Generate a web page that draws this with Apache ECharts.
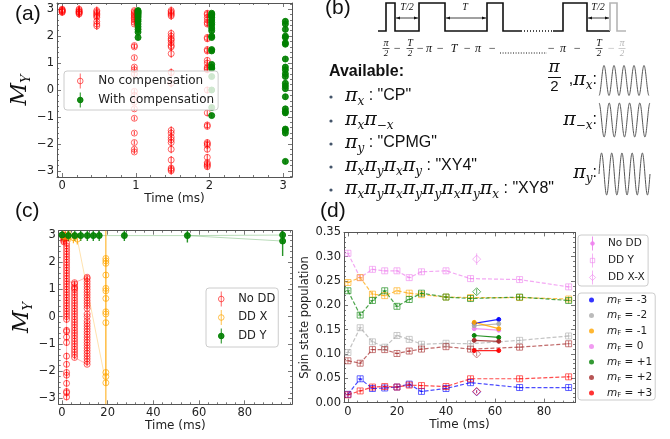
<!DOCTYPE html>
<html><head><meta charset="utf-8">
<script src="https://cdn.jsdelivr.net/npm/echarts@6/dist/echarts.min.js"></script>
<style>html,body{margin:0;padding:0;background:#fff}#c{width:670px;height:439px}</style>
</head><body><div id="c"></div>
<script>
// ================= DATA =================
// ---- panel (a): M_Y vs time (ms) ----
const aTimesNoComp = [0, 0.23, 0.47, 0.98, 1.48, 1.97];
const aNoComp0 = [3.0, 2.97, 2.93, 2.9, 2.88, 2.95];
const aNoComp1 = [3.0, 2.96, 2.92, 2.88, 2.85, 2.82, 2.9];
const aNoComp2 = [2.95, 2.9, 2.85, 2.8, 2.75, 2.7, 2.55, 2.45, 2.38];
const aNoComp3 = [2.95, 2.9, 2.85, 2.8, 2.75, 2.7, 2.65, 2.6, 2.52, 2.45, 1.65, 1.6, 1.2, 0.85, 0.75, 0.6, -0.05, -0.2, -0.45, -0.7, -1.05, -1.6, -1.95, -2.2, -2.3];
const aNoComp4 = [2.95, 2.9, 2.85, 2.8, 2.75, 2.1, 2.0, 1.9, 1.85, 1.75, 1.65, 1.6, 1.35, 0.65, 0.25, -1.5, -1.6, -1.75, -1.85, -1.95, -2.2, -2.6, -2.9, -2.95, -3.0];
const aNoComp5 = [2.85, 2.8, 2.7, 2.6, 2.5, 2.45, 1.95, 1.9, 1.5, 1.45, 1.1, 1.0, 0.85, 0.8, 0.75, 0.0, -0.85, -1.3, -1.35, -1.95, -2.0, -2.05, -2.2, -2.5, -2.7, -2.75, -2.8, -2.85];
const aNoCompErr = [0.12, 0.15, 0.15, 0.08, 0.15, 0.12];
const aTimesComp = [1.03, 2.03, 3.03];
const aComp0 = [2.95, 2.92, 2.88, 2.85, 2.8, 2.75, 2.7, 2.62, 2.55, 2.45, 2.35, 2.25, 2.15, 1.95];
const aComp1 = [2.85, 2.8, 2.75, 2.7, 2.6, 2.5, 2.42, 2.3, 2.2, 2.0, 1.95, 1.5, 1.45, 0.95, 0.85, 0.8, 0.5, 0.0, -0.65, -0.95];
const aComp2 = [2.55, 2.45, 2.25, 2.0, 1.95, 1.75, 1.7, 1.15, 0.85, 0.75, 0.6, 0.5, 0.25, 0.15, 0.05, -0.25, -0.7, -0.8, -0.85, -1.45, -1.5, -1.6, -2.65];
const aCompErr = [0.08, 0.08, 0.1];

// ---- panel (c): M_Y vs time (ms) ----
const cNoDDTimes = [0.8, 2.0, 5.5, 11.0];
const cNoDD0 = [3.0, 2.95, 2.9, 2.85, 2.8, 2.75];
const cNoDD1 = [2.7, 2.6, 2.5, 2.4, 2.3, 2.2, 2.1, 2.0, 1.9, 1.8, 1.7, 1.6, 1.5, 1.4, 1.3, 1.2, 1.1, 1.0, 0.9, 0.8, 0.7, 0.6, 0.5, 0.4, 0.3, 0.2, 0.1, 0.0, -0.1, -0.5, -0.55, -0.75, -0.95, -1.45, -1.75, -2.05, -2.15, -2.45, -2.75, -2.8, -2.95];
const cNoDD2 = [1.25, 1.2, 1.1, 1.05, 1.0, 0.9, 0.8, 0.7, 0.6, 0.5, 0.4, 0.3, 0.2, 0.1, 0.0, -0.1, -0.2, -0.3, -0.4, -0.5, -0.6, -0.7, -0.8, -0.9, -1.0, -1.1, -1.2, -1.3, -1.4, -1.5];
const cNoDD3 = [1.45, 1.4, 1.3, 1.2, 1.1, 1.0, 0.9, 0.8, 0.7, 0.6, 0.5, 0.4, 0.3, 0.1, 0.0, -0.15, -0.25, -0.35, -0.45, -0.55, -0.65, -0.75, -0.85, -0.95, -1.05, -1.15, -1.25, -1.35, -1.45, -1.55, -1.65, -1.75];
const cNoDDErr = [0.1, 0.12, 0.07, 0.07];
const cDDXTopTimes = [0.6, 1.5, 2.5, 3.5, 5.0, 6.7];
const cDDXTopVals = [2.97, 2.95, 2.97, 2.95, 2.9, 2.85];
const cDDXTopErr = [0.2, 0.2, 0.2, 0.2, 0.2, 0.2];
const cDDXLateTime = 19.2;
const cDDXLateVals = [2.14, 2.05, 1.96, 1.53, 1.04, 0.95, 0.67, 0.18, 0.1, -0.22, -2.05, -2.2, -2.43];
const cDDXLateErr = [0.1, 0.1, 0.1, 0.1, 0.1, 0.1, 0.1, 0.1, 3.4, 0.1, 0.1, 0.1, 0.1];
const cDDYTimes = [0, 2.8, 5.6, 8.2, 11.1, 13.7, 16.3, 27.3, 54.9, 96.6, 96.6];
const cDDYVals = [3.0, 2.98, 2.98, 2.98, 2.98, 2.98, 2.98, 2.98, 2.98, 3.0, 2.78];
const cDDYErr = [0.2, 0.2, 0.2, 0.2, 0.2, 0.2, 0.2, 0.2, 0.25, 0.15, 0.55];

// ---- panel (d): spin state population vs time (ms) ----
const dTimes = [0, 5, 10, 15, 20, 25, 30, 40, 50, 70, 90];
const mFNames = ['mF = -3', 'mF = -2', 'mF = -1', 'mF = 0', 'mF = +1', 'mF = +2', 'mF = +3'];
const dDDY_m3 = [0.017, 0.049, 0.029, 0.030, 0.032, 0.038, 0.023, 0.029, 0.041, 0.031, 0.031];
const dDDY_m2 = [0.103, 0.154, 0.125, 0.114, 0.138, 0.130, 0.120, 0.122, 0.121, 0.128, 0.137];
const dDDY_m1 = [0.247, 0.257, 0.223, 0.220, 0.230, 0.225, 0.222, 0.217, 0.216, 0.216, 0.213];
const dDDY_0  = [0.307, 0.257, 0.274, 0.271, 0.271, 0.257, 0.269, 0.271, 0.255, 0.253, 0.238];
const dDDY_p1 = [0.230, 0.180, 0.210, 0.230, 0.198, 0.212, 0.225, 0.217, 0.214, 0.217, 0.210];
const dDDY_p2 = [0.086, 0.081, 0.109, 0.109, 0.101, 0.106, 0.110, 0.115, 0.110, 0.114, 0.121];
const dDDY_p3 = [0.016, 0.024, 0.032, 0.033, 0.032, 0.036, 0.035, 0.033, 0.049, 0.049, 0.053];
const dDDYErr = 0.006;
const dNoDDTimes = [51.5, 61.5];
const dNoDD_m3 = [0.163, 0.171];
const dNoDD_m2 = [0.158, 0.162];
const dNoDD_m1 = [0.165, 0.152];
const dNoDD_0  = [0.152, 0.149];
const dNoDD_p1 = [0.138, 0.134];
const dNoDD_p2 = [0.128, 0.126];
const dNoDD_p3 = [0.107, 0.107];
const dXXTime = 52.5;
const dXXVals = [0.022, null, null, 0.295, 0.228, 0.100, 0.023];
const dXXErr  = [0.003, null, null, 0.012, 0.006, 0.005, 0.003];

// ---- tick labels ----
const aXTicks = [0, 1, 2, 3];
const myTicks = [-3, -2, -1, 0, 1, 2, 3];
const cXTicks = [0, 20, 40, 60, 80];
const dXTicks = [0, 20, 40, 60, 80];
const dYTicks = [0, 0.05, 0.10, 0.15, 0.20, 0.25, 0.30, 0.35];

// ================= HELPERS =================
const FONT = 'DejaVu Sans';
const LC = '#555';
function range(a, b, s) { const r = []; for (let v = a; v <= b + 1e-9; v += s) r.push(+v.toFixed(6)); return r; }
function minors(a, b, s, maj) { return range(a, b, s).filter(v => !maj.some(m => Math.abs(m - v) < 1e-6)); }
const minus = v => String(v).replace('-', '\u2212');

const xAxes = [], yAxes = [];
function addFrame(gi, xr, yr, xMaj, xMin, yMaj, yMin, xFmt, yFmt, xName, xGap, yName, yGap, yNameStyle) {
  const lbl = { fontFamily: FONT, fontSize: 11.5, color: '#222' };
  const base = { type: 'value', gridIndex: gi, splitLine: { show: false } };
  const line = { show: true, onZero: false, lineStyle: { color: LC, width: 1 } };
  const noLine = { show: false, onZero: false };
  const tk = (vals, len) => ({ show: true, inside: true, length: len, customValues: vals, lineStyle: { color: LC, width: 0.8 } });
  xAxes.push(Object.assign({}, base, { position: 'bottom', min: xr[0], max: xr[1], axisLine: line, axisTick: tk(xMaj, 4),
    axisLabel: Object.assign({ show: true, customValues: xMaj, formatter: xFmt, margin: 3 }, lbl),
    name: xName, nameLocation: 'middle', nameGap: xGap, nameTextStyle: { fontFamily: FONT, fontSize: 12, color: '#222' } }));
  xAxes.push(Object.assign({}, base, { position: 'bottom', min: xr[0], max: xr[1], axisLine: noLine, axisTick: tk(xMin, 2), axisLabel: { show: false } }));
  xAxes.push(Object.assign({}, base, { position: 'top', min: xr[0], max: xr[1], axisLine: line, axisTick: tk(xMaj, 4), axisLabel: { show: false } }));
  xAxes.push(Object.assign({}, base, { position: 'top', min: xr[0], max: xr[1], axisLine: noLine, axisTick: tk(xMin, 2), axisLabel: { show: false } }));
  yAxes.push(Object.assign({}, base, { position: 'left', min: yr[0], max: yr[1], axisLine: line, axisTick: tk(yMaj, 4),
    axisLabel: Object.assign({ show: true, customValues: yMaj, formatter: yFmt, margin: 3 }, lbl),
    name: yName, nameLocation: 'middle', nameRotate: 90, nameGap: yGap, nameTextStyle: yNameStyle }));
  yAxes.push(Object.assign({}, base, { position: 'left', min: yr[0], max: yr[1], axisLine: noLine, axisTick: tk(yMin, 2), axisLabel: { show: false } }));
  yAxes.push(Object.assign({}, base, { position: 'right', min: yr[0], max: yr[1], axisLine: line, axisTick: tk(yMaj, 4), axisLabel: { show: false } }));
  yAxes.push(Object.assign({}, base, { position: 'right', min: yr[0], max: yr[1], axisLine: noLine, axisTick: tk(yMin, 2), axisLabel: { show: false } }));
}
const myNameStyle = { rich: {
  m: { fontFamily: 'DejaVu Serif', fontStyle: 'italic', fontSize: 22, color: '#111' },
  s: { fontFamily: 'DejaVu Serif', fontStyle: 'italic', fontSize: 13, color: '#111', padding: [12, 0, 0, 0] } } };

const aXR = [-0.07, 3.12], aYR = [-3.23, 3.23];
const cXR = [-1.44, 100.7], cYR = [-3.22, 3.16];
const dXR = [-1.6, 92.6], dYR = [0, 0.35];
addFrame(0, aXR, aYR, aXTicks, minors(0, 3.1, 0.2, aXTicks), myTicks, minors(-3.2, 3.2, 0.2, myTicks),
  v => String(v), minus, 'Time (ms)', 13, '{m|M}{s|Y}', 22, myNameStyle);
addFrame(1, cXR, cYR, cXTicks, minors(0, 100, 4, cXTicks), myTicks, minors(-3.2, 3.15, 0.2, myTicks),
  v => String(v), minus, 'Time (ms)', 14, '{m|M}{s|Y}', 17, myNameStyle);
addFrame(2, dXR, dYR, dXTicks, minors(0, 92, 4, dXTicks), dYTicks, minors(0, 0.35, 0.01, dYTicks),
  v => String(v), v => v.toFixed(2), 'Time (ms)', 15, 'Spin state population', 31,
  { fontFamily: FONT, fontSize: 11.5, color: '#222' });

function flat(times, groups, errs) {
  const out = [];
  groups.forEach((g, i) => g.forEach(y => out.push([times[i], y, errs[i]])));
  return out;
}
function errSeries(name, data, gi, color, width, opacity, horiz) {
  return { type: 'custom', name, xAxisIndex: gi * 4, yAxisIndex: gi * 4, data, silent: true, clip: true, z: 2,
    renderItem(params, api) {
      const x = api.value(0), y = api.value(1), e = api.value(2);
      const p1 = horiz ? api.coord([x - e, y]) : api.coord([x, y - e]);
      const p2 = horiz ? api.coord([x + e, y]) : api.coord([x, y + e]);
      return { type: 'line', shape: { x1: p1[0], y1: p1[1], x2: p2[0], y2: p2[1] }, style: { stroke: color, lineWidth: width, opacity } };
    } };
}
function markSeries(name, data, gi, color, symbol, size, filled, opacity) {
  return { type: 'scatter', name, xAxisIndex: gi * 4, yAxisIndex: gi * 4, data: data.map(d => [d[0], d[1]]),
    symbol, symbolSize: size, silent: true, z: 3,
    itemStyle: { color: filled ? color : 'rgba(0,0,0,0)', borderColor: color, borderWidth: 1, opacity } };
}
function lineSeries(name, pts, gi, color, width, opacity, type) {
  return { type: 'line', name, xAxisIndex: gi * 4, yAxisIndex: gi * 4, data: pts, symbol: 'none', silent: true, z: 1,
    lineStyle: { color, width, opacity, type: type || 'solid' } };
}

const series = [];
// ---- (a)
const aRed = flat(aTimesNoComp, [aNoComp0, aNoComp1, aNoComp2, aNoComp3, aNoComp4, aNoComp5], aNoCompErr);
const aGreen = flat(aTimesComp, [aComp0, aComp1, aComp2], aCompErr);
series.push(markSeries('No compensation', aRed, 0, '#ff0000', 'circle', 6, false, 0.6));
series.push(errSeries('a-red-err', aRed, 0, '#ff0000', 1.2, 0.7));
series.push(markSeries('With compensation', aGreen, 0, '#008000', 'circle', 6, true, 0.9));
series.push(errSeries('a-green-err', aGreen, 0, '#008000', 1.2, 0.8));

// ---- (c)
const cRed = flat(cNoDDTimes, [cNoDD0, cNoDD1, cNoDD2, cNoDD3], cNoDDErr);
const col = (t, arr) => arr.map(v => [t, v]);
const cRedLine1 = col(cNoDDTimes[0], cNoDD0).concat(col(cNoDDTimes[1], cNoDD1));
const cRedLine2 = [[cNoDDTimes[1], 1.3]].concat(col(cNoDDTimes[2], cNoDD2), col(cNoDDTimes[3], cNoDD3.slice().reverse()));
const cRedLine3 = [[cNoDDTimes[2], cNoDD2[0]], [cNoDDTimes[3], cNoDD3[0]]];
series.push(lineSeries('c-red-l1', cRedLine1, 1, '#ff0000', 0.8, 0.35));
series.push(lineSeries('c-red-l2', cRedLine2, 1, '#ff0000', 0.8, 0.35));
series.push(lineSeries('c-red-l3', cRedLine3, 1, '#ff0000', 0.8, 0.35));
series.push(markSeries('No DD', cRed, 1, '#ff0000', 'circle', 6, false, 0.6));
series.push(errSeries('c-red-err', cRed, 1, '#ff0000', 1.2, 0.7));
const cOrange = cDDXTopTimes.map((t, i) => [t, cDDXTopVals[i], cDDXTopErr[i]]).concat(cDDXLateVals.map((v, i) => [cDDXLateTime, v, cDDXLateErr[i]]));
const cOrangeLine = cDDXTopTimes.map((t, i) => [t, cDDXTopVals[i]]).concat(col(cDDXLateTime, cDDXLateVals.slice().reverse()));
series.push(lineSeries('c-orange-l', cOrangeLine, 1, '#ffa500', 0.8, 0.4));
series.push(markSeries('DD X', cOrange, 1, '#ffa500', 'circle', 6, false, 0.7));
series.push(errSeries('c-orange-err', cOrange, 1, '#ffa500', 1.2, 0.8));
const cGreen = cDDYTimes.map((t, i) => [t, cDDYVals[i], cDDYErr[i]]);
series.push(lineSeries('c-green-l1', cGreen.slice(0, 10).map(d => [d[0], d[1]]), 1, '#008000', 0.8, 0.35));
series.push(lineSeries('c-green-l2', [[cDDYTimes[8], cDDYVals[8]], [cDDYTimes[10], cDDYVals[10]]], 1, '#008000', 0.8, 0.35));
series.push(markSeries('DD Y', cGreen, 1, '#008000', 'circle', 6, true, 0.9));
series.push(errSeries('c-green-err', cGreen, 1, '#008000', 1.4, 0.85));

// ---- (d)
const dColors = ['#0000ff', '#aaaaaa', '#ffa500', '#ee82ee', '#008000', '#a52a2a', '#ff0000'];
const dDDY = [dDDY_m3, dDDY_m2, dDDY_m1, dDDY_0, dDDY_p1, dDDY_p2, dDDY_p3];
const dNoDD = [dNoDD_m3, dNoDD_m2, dNoDD_m1, dNoDD_0, dNoDD_p1, dNoDD_p2, dNoDD_p3];
const order = [3, 0, 1, 2, 4, 5, 6];
order.forEach(k => {
  const c = dColors[k];
  const nd = dNoDD[k].map((v, i) => [dNoDDTimes[i], v, 0.004]);
  series.push(markSeries(k === 3 ? 'No DD ' : 'd-nodd-' + k, nd, 2, c, 'circle', 4, true, 0.9));
  series.push(lineSeries('d-nodd-l' + k, nd.map(d => [d[0], d[1]]), 2, c, 1.2, 0.85));
  series.push(errSeries('d-nodd-e' + k, nd, 2, c, 1, 0.8));
  const dy = dDDY[k].map((v, i) => [dTimes[i], v, dDDYErr]);
  series.push(markSeries(k === 3 ? 'DD Y ' : 'd-ddy-' + k, dy, 2, c, 'rect', 6, false, 0.6));
  series.push(lineSeries('d-ddy-l' + k, dy.map(d => [d[0], d[1]]), 2, c, 1.2, 0.7, [4, 2]));
  series.push(errSeries('d-ddy-e' + k, dy, 2, c, 1, 0.6));
  series.push(errSeries('d-ddy-h' + k, dy.map(d => [d[0], d[1], 0.9]), 2, c, 1, 0.6, true));
  if (dXXVals[k] !== null) {
    const xx = [[dXXTime, dXXVals[k], dXXErr[k]]];
    series.push(markSeries(k === 3 ? 'DD X-X' : 'd-xx-' + k, xx, 2, c, 'diamond', 8, false, 0.6));
    series.push(errSeries('d-xx-e' + k, xx, 2, c, 1, 0.6));
  }
});
mFNames.forEach((n, k) => series.push({ type: 'scatter', name: n, xAxisIndex: 8, yAxisIndex: 8, data: [], itemStyle: { color: dColors[k] } }));

// ================= LEGENDS =================
const legBase = { orient: 'vertical', backgroundColor: 'rgba(255,255,255,0.8)', borderColor: '#cccccc', borderWidth: 1,
  borderRadius: 3, selectedMode: false, itemStyle: { borderWidth: 1 }, z: 10 };
const icCircle = 'path://M4 0L4 16M0 8M8 8M7 8A3 3 0 1 1 1 8A3 3 0 1 1 7 8Z';
const icDot = 'path://M4 1L4 15M0 8M8 8M5.8 8A1.8 1.8 0 1 1 2.2 8A1.8 1.8 0 1 1 5.8 8Z';
const icSquare = 'path://M4 0L4 16M0 8M8 8M1.5 5.5H6.5V10.5H1.5Z';
const icDiamond = 'path://M4 0L4 16M0 8M8 8M4 4.5L7.5 8L4 11.5L0.5 8Z';
const legends = [
  Object.assign({}, legBase, { left: 64, top: 71, padding: [2, 4, 2, 12], itemGap: 3, itemWidth: 26, itemHeight: 15,
    data: [{ name: 'No compensation', icon: icCircle }, { name: 'With compensation', icon: icCircle }],
    textStyle: { fontFamily: FONT, fontSize: 12, color: '#222', lineHeight: 15 } }),
  Object.assign({}, legBase, { left: 206, top: 288, padding: [3, 3, 3, 11], itemGap: 2.5, itemWidth: 24, itemHeight: 15,
    data: [{ name: 'No DD', icon: icCircle }, { name: 'DD X', icon: icCircle }, { name: 'DD Y', icon: icCircle }],
    textStyle: { fontFamily: FONT, fontSize: 11.5, color: '#222', lineHeight: 15 } }),
  Object.assign({}, legBase, { left: 578, top: 235, padding: [1, 3, 1, 10], itemGap: 2, itemWidth: 21, itemHeight: 14,
    data: [{ name: 'No DD ', icon: icDot }, { name: 'DD Y ', icon: icSquare }, { name: 'DD X-X', icon: icDiamond }],
    textStyle: { fontFamily: FONT, fontSize: 10.5, color: '#222', lineHeight: 14 } }),
  Object.assign({}, legBase, { left: 578, top: 293, padding: [1, 3, 1, 11], itemGap: 3.5, itemWidth: 21, itemHeight: 5,
    icon: 'circle', data: mFNames,
    formatter: n => '{m|m}{f|F}{t| = ' + n.replace('mF = ', '') + '}',
    textStyle: { fontFamily: FONT, fontSize: 10.5, color: '#222', lineHeight: 12,
      rich: { m: { fontFamily: FONT, fontStyle: 'italic', fontSize: 10.5, color: '#222', lineHeight: 12 },
              f: { fontFamily: FONT, fontSize: 7, color: '#222', padding: [5, 0, 0, 0], lineHeight: 12 },
              t: { fontFamily: FONT, fontSize: 10.5, color: '#222', lineHeight: 12 } } } })
];

// ================= PANEL (b) DIAGRAM =================
const G = [];
const lbl = (t, x, y) => G.push({ type: 'text', left: x, top: y, z: 20,
  style: { text: t, font: '21px "Liberation Sans"', fill: '#111' } });
lbl('(a)', 15, 4); lbl('(b)', 325, -2); lbl('(c)', 15, 201); lbl('(d)', 320, 201);

// pulse train
G.push({ type: 'polyline', z: 20, shape: { points: [[378,31],[386,31],[386,3],[395,3],[395,31],[419,31],[419,3],[445,3],[445,31],[487,31],[487,3],[503,3],[503,31],[522,31]] }, style: { stroke: '#111', lineWidth: 1.6, fill: null } });
G.push({ type: 'line', z: 20, shape: { x1: 524, y1: 31, x2: 552, y2: 31 }, style: { stroke: '#111', lineWidth: 1.3, lineDash: [1, 2] } });
G.push({ type: 'polyline', z: 20, shape: { points: [[553,31],[563,31],[563,3],[587,3],[587,31],[610,31]] }, style: { stroke: '#111', lineWidth: 1.6, fill: null } });
G.push({ type: 'polyline', z: 20, shape: { points: [[610,31],[610,3],[617,3],[617,31],[626,31]] }, style: { stroke: '#b5b5b5', lineWidth: 1.6, fill: null } });
function arrow(x1, x2, y) {
  G.push({ type: 'line', z: 20, shape: { x1, y1: y, x2, y2: y }, style: { stroke: '#111', lineWidth: 0.8 } });
  G.push({ type: 'polygon', z: 20, shape: { points: [[x1, y], [x1 + 4, y - 1.6], [x1 + 4, y + 1.6]] }, style: { fill: '#111' } });
  G.push({ type: 'polygon', z: 20, shape: { points: [[x2, y], [x2 - 4, y - 1.6], [x2 - 4, y + 1.6]] }, style: { fill: '#111' } });
}
arrow(396, 418, 18); arrow(446, 486, 18); arrow(588, 609, 18);
const it = (t, x, y, size, color) => G.push({ type: 'text', x, y, z: 20,
  style: { text: t, font: 'italic ' + size + 'px "Liberation Serif"', fill: color || '#111', align: 'center', verticalAlign: 'middle' } });
it('T/2', 407, 7, 10); it('T', 465, 7, 10); it('T/2', 598, 7, 10);
function frac(num, x, color) {
  it(num, x, 43, 10, color); it('2', x, 54, 9, color);
  G.push({ type: 'line', z: 20, shape: { x1: x - 3.5, y1: 48.5, x2: x + 3.5, y2: 48.5 }, style: { stroke: color || '#111', lineWidth: 0.7 } });
}
frac('π', 386); frac('T', 410); frac('T', 599); frac('π', 622, '#b5b5b5');
[['−', 397], ['−', 420], ['π', 429], ['−', 440], ['T', 454], ['−', 467], ['π', 478], ['−', 492], ['−', 551], ['π', 563], ['−', 577]].forEach(p => it(p[0], p[1], 49, 12));
it('−', 611, 49, 12, '#b5b5b5');
G.push({ type: 'line', z: 20, shape: { x1: 500, y1: 53, x2: 547, y2: 53 }, style: { stroke: '#111', lineWidth: 1, lineDash: [1, 1.6] } });

// available list
G.push({ type: 'text', left: 329, top: 64, z: 20, style: { text: 'Available:', font: 'bold 16px "Liberation Sans"', fill: '#111' } });
const richB = {
  p: { fontFamily: 'DejaVu Serif', fontStyle: 'italic', fontSize: 19, fill: '#111' },
  s: { fontFamily: 'DejaVu Serif', fontStyle: 'italic', fontSize: 12, fill: '#111', padding: [12, 0, 0, 0] },
  t: { fontFamily: 'Liberation Sans', fontSize: 16, fill: '#111' }
};
const items = [
  '{p|π}{s|x}{t| : "CP"}',
  '{p|π}{s|x}{p|π}{s|−x}',
  '{p|π}{s|y}{t| : "CPMG"}',
  '{p|π}{s|x}{p|π}{s|y}{p|π}{s|x}{p|π}{s|y}{t| : "XY4"}',
  '{p|π}{s|x}{p|π}{s|y}{p|π}{s|x}{p|π}{s|y}{p|π}{s|y}{p|π}{s|x}{p|π}{s|y}{p|π}{s|x}{t| : "XY8"}'
];
const rowsY = [96, 120, 143, 166, 189];
items.forEach((t, i) => {
  G.push({ type: 'circle', z: 20, shape: { cx: 331, cy: rowsY[i] + 1, r: 1.6 }, style: { fill: '#44546a' } });
  G.push({ type: 'text', x: 345, y: rowsY[i], z: 20, style: { text: t, rich: richB, verticalAlign: 'middle' } });
});
// waveform labels
G.push({ type: 'text', x: 554, y: 68, z: 20, style: { text: 'π', font: 'italic 17px "DejaVu Serif"', fill: '#111', align: 'center', verticalAlign: 'middle' } });
G.push({ type: 'line', z: 20, shape: { x1: 548, y1: 77.5, x2: 561, y2: 77.5 }, style: { stroke: '#111', lineWidth: 1 } });
G.push({ type: 'text', x: 554.5, y: 87, z: 20, style: { text: '2', font: '15px "Liberation Sans"', fill: '#111', align: 'center', verticalAlign: 'middle' } });
G.push({ type: 'text', x: 597, y: 80, z: 20, style: { text: '{t|,}{p|π}{s|x}{t|:}', rich: richB, align: 'right', verticalAlign: 'middle' } });
G.push({ type: 'text', x: 597, y: 120, z: 20, style: { text: '{p|π}{s|−x}{t|:}', rich: richB, align: 'right', verticalAlign: 'middle' } });
G.push({ type: 'text', x: 597, y: 173, z: 20, style: { text: '{p|π}{s|y}{t|:}', rich: richB, align: 'right', verticalAlign: 'middle' } });
function wave(x0, x1, yc, amp, cycles, phase) {
  const pts = [];
  const n = 240;
  for (let i = 0; i <= n; i++) {
    const f = i / n;
    pts.push([x0 + (x1 - x0) * f, yc - amp * Math.sin(2 * Math.PI * cycles * f + phase)]);
  }
  G.push({ type: 'polyline', z: 20, shape: { points: pts }, style: { stroke: '#555', lineWidth: 1, fill: null } });
}
wave(599, 649, 80.5, 15, 5, -Math.PI / 2);
wave(599, 650, 120, 17, 5, Math.PI / 2);
wave(599, 650, 174, 21, 5, 0);

// ================= CHART =================
const chart = echarts.init(document.getElementById('c'), null, { renderer: 'canvas' });
chart.setOption({
  animation: false,
  backgroundColor: '#ffffff',
  textStyle: { fontFamily: FONT },
  grid: [
    { left: 57, top: 3, width: 235, height: 174 },
    { left: 58.7, top: 230.7, width: 233.3, height: 173.6 },
    { left: 344, top: 232.4, width: 231, height: 170.2 }
  ],
  xAxis: xAxes,
  yAxis: yAxes,
  legend: legends,
  series,
  graphic: G
});
</script></body></html>
